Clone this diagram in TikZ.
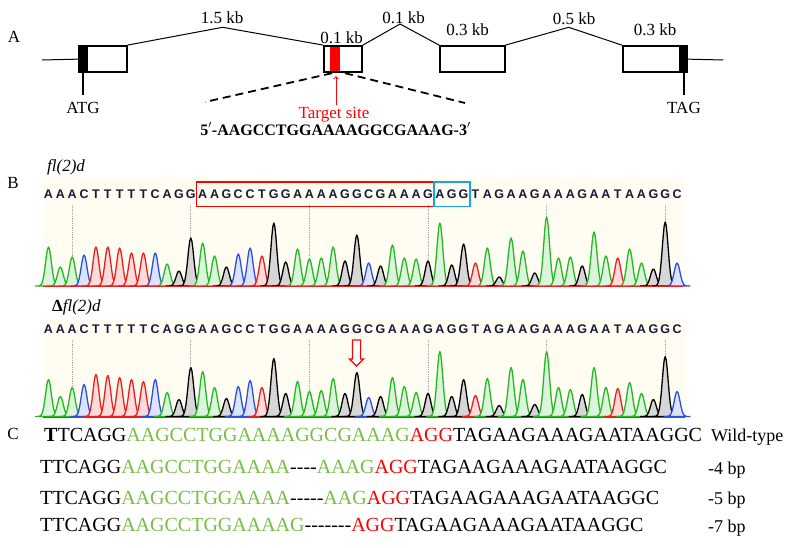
\documentclass[tikz,border=0pt]{standalone}
\usepackage{fontspec}
\setmainfont{Liberation Serif}
\newfontfamily\chromfont{Liberation Sans}
\usetikzlibrary{arrows,shapes.arrows,fit}

\definecolor{basA}{RGB}{35,185,35}
\definecolor{basC}{RGB}{40,80,225}
\definecolor{basG}{RGB}{0,0,0}
\definecolor{basT}{RGB}{235,30,30}
\definecolor{chrombg}{RGB}{255,252,242}
\definecolor{chromtext}{RGB}{25,25,55}
\definecolor{pamblue}{RGB}{20,165,230}
\definecolor{seqgreen}{RGB}{118,190,68}

\begin{document}
\begin{tikzpicture}[x=1pt,y=-1pt]
\tikzstyle{exon}=[draw=black,line width=1.8pt,minimum height=26.3pt,inner sep=0pt]
\tikzstyle{kb}=[font=\fontsize{17}{20}\selectfont,inner sep=1pt]
\tikzstyle{panel}=[font=\fontsize{17}{20}\selectfont,inner sep=0pt]
\tikzstyle{gen}=[font=\itshape\fontsize{17}{20}\selectfont,inner sep=0pt,anchor=west]
\tikzstyle{call}=[font=\chromfont\bfseries\fontsize{12.5}{14}\selectfont,text=chromtext,minimum width=11.86pt,minimum height=24.4pt,inner sep=0pt,text height=9pt,text depth=0pt]
\tikzstyle{peak}=[line width=1.3pt,line join=round]
\tikzstyle{grid}=[gray!70,densely dotted,line width=0.8pt]
\tikzstyle{seqrow}=[font=\fontsize{20}{24}\selectfont,inner sep=0pt,anchor=base west]
\tikzstyle{mutlabel}=[font=\fontsize{18}{22}\selectfont,inner sep=0pt,anchor=base west]
\tikzstyle{zoomline}=[line width=1.8pt,dash pattern=on 8pt off 5pt]

\useasboundingbox (0,0) rectangle (800,548);

% A: gene model
\node[panel] (pa) at (14,37) {A};
\node[exon,minimum width=47.7pt] (ex1) at (102.85,59.15) {};
\node[exon,minimum width=38pt] (ex2) at (343,59.15) {};
\node[exon,minimum width=64.7pt] (ex3) at (472.35,59.15) {};
\node[exon,minimum width=64.3pt] (ex4) at (654.85,59.15) {};
\fill[black] (ex1.north west) rectangle (87.7,72.3);
\fill[black] (679,46) rectangle (ex4.south east);
\fill[red] (330,47) rectangle (339.7,71.5);
\coordinate (u5) at (42,60);
\coordinate (u3) at (723.3,60);
\coordinate (i1) at (222.7,27.3);
\coordinate (i2) at (400,24);
\coordinate (i3) at (568.7,27.3);
\draw[line width=1pt] (u5) -- (ex1.west);
\draw[line width=1pt] (ex4.east) -- (u3);
\draw[line width=1pt] (ex1.north east) -- (i1) -- (ex2.north west);
\draw[line width=1pt] (ex2.north east) -- (i2) -- (ex3.north west);
\draw[line width=1pt] (ex3.north east) -- (i3) -- (ex4.north west);
\node[kb] (k1) at (222,18) {1.5 kb};
\node[kb] (k2) at (341.7,37.7) {0.1 kb};
\node[kb] (k3) at (403.5,18) {0.1 kb};
\node[kb] (k4) at (467.7,30) {0.3 kb};
\node[kb] (k5) at (574,19) {0.5 kb};
\node[kb] (k6) at (655,30) {0.3 kb};
\node[kb] (atg) at (83,108) {ATG};
\node[kb] (tag) at (684,108) {TAG};
\draw[line width=1.5pt,shorten >=6pt] (ex1.south west -| atg) -- (atg.north);
\draw[line width=1.5pt,shorten >=6pt] (ex4.south east -| tag) -- (tag.north);
\coordinate (dl) at (205,102);
\coordinate (dr) at (465,103);
\draw[zoomline] ([xshift=-11pt]ex2.south) -- (dl);
\draw[zoomline] ([xshift=2pt]ex2.south) -- (dr);
\node[kb,text=red] (tsite) at (334,115) {Target site};
\draw[red,line width=1pt,->,shorten >=3pt,shorten <=1pt] ([xshift=2pt]tsite.north) -- ([xshift=2pt]tsite.north |- ex2.south);
\node[font=\bfseries\fontsize{16}{19}\selectfont,inner sep=0pt] (tseq) at (335.5,129) {5$'$-AAGCCTGGAAAAGGCGAAAG-3$'$};

% B: chromatograms
\node[panel] (pb) at (13,183) {B};
\node[gen] (wt) at (47,167) {fl(2)d};
\fill[chrombg] (43,178) rectangle (683,288);
\foreach \i in {2,12,...,52}{
  \pgfmathsetmacro\xd{48.5+11.86*\i}
  \draw[grid] (\xd,205) -- (\xd,285);
}
\foreach \b/\h [count=\i from 0] in {A/39,A/19,A/29,C/31,T/39,T/39,T/38,T/33,T/33,C/33,A/22,G/15,G/48,A/43,A/30,G/19,C/32,C/38,T/30,G/63,G/24,A/37,A/27,A/28,A/39,G/25,G/51,C/23,G/20,A/41,A/28,A/27,G/25,A/63,G/21,G/42,T/23,A/38,G/9,A/48,A/35,G/13,A/69,A/28,A/29,G/20,A/54,A/30,T/28,A/37,A/23,G/17,G/64,C/23}{
  \pgfmathsetmacro\xi{48.5+11.86*\i}
  \pgfmathsetmacro\xa{\xi-13}
  \pgfmathsetmacro\xb{\xi+13}
  \node[call] (t\i) at (\xi,194.3) {\b};
  \filldraw[peak,draw=bas\b,fill=bas\b!16] plot[domain=\xa:\xb,samples=27] (\x,{286-\h*exp(-((\x-\xi)/4.1)^2)}) -- cycle;
}
\draw[basT,line width=1pt] (43,286.5) -- (683,286.5);
\node[draw=red,line width=1.6pt,inner sep=0pt,fit=(t13)(t32)] (grna) {};
\node[draw=pamblue,line width=1.6pt,inner sep=0pt,fit=(t33)(t35)] (pam) {};

\node[gen] (ko) at (52,307) {\textbf{\upshape Δ}fl(2)d};
\fill[chrombg] (43,319) rectangle (685,419);
\foreach \i in {2,12,...,52}{
  \pgfmathsetmacro\xd{48.5+11.86*\i}
  \draw[grid] (\xd,340) -- (\xd,416);
}
\foreach \b/\h [count=\i from 0] in {A/37,A/20,A/29,C/32,T/42,T/41,T/39,T/37,T/35,C/37,A/24,G/17,G/49,A/45,A/29,G/18,C/30,C/36,T/29,G/58,G/23,A/35,A/25,A/26,A/38,G/23,G/44,C/19,G/20,A/39,A/30,A/24,G/23,A/65,G/20,G/37,T/21,A/38,G/11,A/49,A/37,G/12,A/65,A/29,A/27,G/22,A/49,A/29,T/28,A/34,A/23,G/17,G/60,C/25}{
  \pgfmathsetmacro\xi{48.5+11.86*\i}
  \pgfmathsetmacro\xa{\xi-13}
  \pgfmathsetmacro\xb{\xi+13}
  \node[call] (d\i) at (\xi,329) {\b};
  \filldraw[peak,draw=bas\b,fill=bas\b!16] plot[domain=\xa:\xb,samples=27] (\x,{416.5-\h*exp(-((\x-\xi)/4.1)^2)}) -- cycle;
}
\draw[basT,line width=1pt] (43,417) -- (685,417);
\node[single arrow,draw=red,fill=white,line width=1.2pt,shape border rotate=270,minimum height=26pt,inner sep=3.5pt,single arrow head extend=3pt,single arrow tip angle=90] (mut) at (356.5,351) {};

% C: alleles
\node[panel] (pc) at (13,434) {C};
\node[seqrow] (r1) at (44,441) {\textbf{T}TCAGG\textcolor{seqgreen}{AAGCCTGGAAAAGGCGAAAG}\textcolor{red}{AGG}TAGAAGAAAGAATAAGGC};
\node[seqrow] (r2) at (40,473.5) {TTCAGG\textcolor{seqgreen}{AAGCCTGGAAAA}-{}-{}-{}-\textcolor{seqgreen}{AAAG}\textcolor{red}{AGG}TAGAAGAAAGAATAAGGC};
\node[seqrow] (r3) at (40,504) {TTCAGG\textcolor{seqgreen}{AAGCCTGGAAAA}-{}-{}-{}-{}-\textcolor{seqgreen}{AAG}\textcolor{red}{AGG}TAGAAGAAAGAATAAGGC};
\node[seqrow] (r4) at (40,531.5) {TTCAGG\textcolor{seqgreen}{AAGCCTGGAAAAG}-{}-{}-{}-{}-{}-{}-\textcolor{red}{AGG}TAGAAGAAAGAATAAGGC};
\node[mutlabel] (l1) at (711,441) {Wild-type};
\node[mutlabel] (l2) at (708,474.5) {-4 bp};
\node[mutlabel] (l3) at (708,504.5) {-5 bp};
\node[mutlabel] (l4) at (708,532.5) {-7 bp};
\end{tikzpicture}
\end{document}
